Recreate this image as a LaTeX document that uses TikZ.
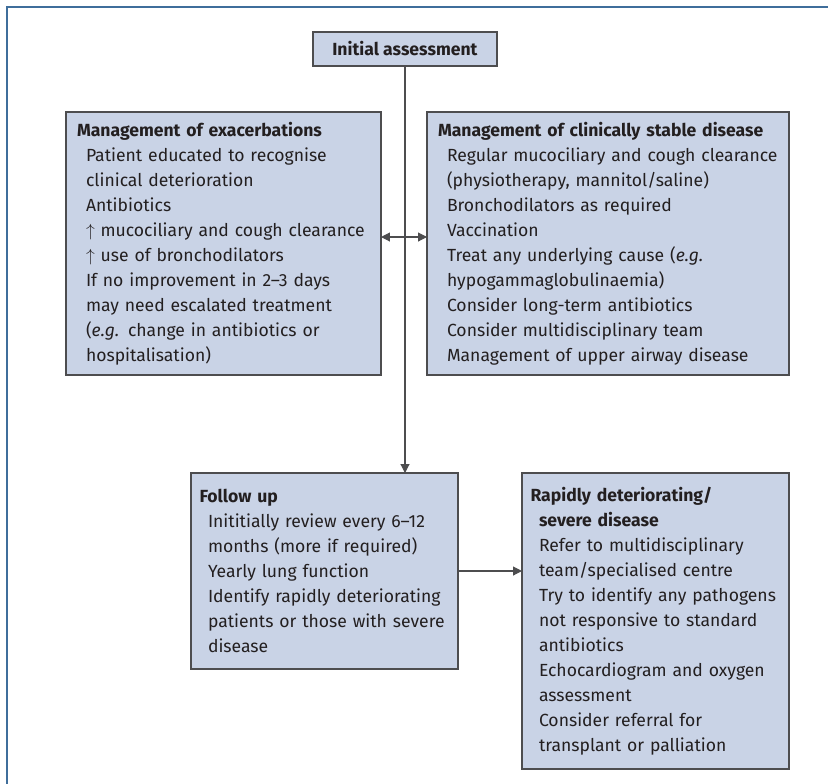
\documentclass[tikz,border=0pt]{standalone}
\usepackage{amsmath}
\usepackage{amssymb}
\usepackage{fontspec}
\setmainfont{Fira Sans}
\usepackage{tikz}
\usetikzlibrary{arrows.meta}

\definecolor{boxfill}{HTML}{C9D3E6}
\definecolor{boxline}{HTML}{4D4D4F}
\definecolor{framecol}{HTML}{3F6E9B}
\definecolor{textcol}{HTML}{231F20}

\newlength{\itmind}
\newlength{\ttlind}
\newcommand{\itm}[1]{\hspace*{\itmind}\mbox{#1}}
\newcommand{\ttl}[1]{\hspace*{\ttlind}\mbox{\textbf{#1}}}

\tikzset{
    mgmtbox/.style={draw=boxline, fill=boxfill, line width=0.6pt, outer sep=0pt,
      align=left, anchor=north west, inner xsep=0.06cm, inner ysep=0pt,
      text=textcol, font=\fontsize{10}{14.2}\selectfont},
    bigbox/.style={mgmtbox,
      execute at begin node={\setlength{\itmind}{0.34cm}\setlength{\ttlind}{0.16cm}}},
    smallbox/.style={mgmtbox,
      execute at begin node={\setlength{\itmind}{0.28cm}\setlength{\ttlind}{0.11cm}}},
    link/.style={draw=boxline, line width=0.6pt}
}

\begin{document}
\begin{tikzpicture}[>={Triangle[length=5pt,width=5pt]}]

    \useasboundingbox (0,0) rectangle (16.56,-15.66);

    \draw[framecol, line width=1.2pt] (0.14,-0.14) rectangle (17,-16.5);

    \node[mgmtbox, anchor=center, minimum width=3.68cm, minimum height=0.68cm] (init) at (8.1,-0.98)
      {\textbf{Initial assessment}};

    \node[bigbox, text width=6.18cm, minimum height=5.26cm] (exac) at (1.32,-2.24)
      {\ttl{Management of exacerbations}\\
       \itm{Patient educated to recognise}\\
       \itm{clinical deterioration}\\
       \itm{Antibiotics}\\
       \itm{$\uparrow$ mucociliary and cough clearance}\\
       \itm{$\uparrow$ use of bronchodilators}\\
       \itm{If no improvement in 2--3 days}\\
       \itm{may need escalated treatment}\\
       \itm{(\textit{e.g.} change in antibiotics or}\\
       \itm{hospitalisation)}};

    \node[bigbox, text width=7.12cm, minimum height=5.26cm] (stable) at (8.54,-2.24)
      {\ttl{Management of clinically stable disease}\\
       \itm{Regular mucociliary and cough clearance}\\
       \itm{(physiotherapy, mannitol/saline)}\\
       \itm{Bronchodilators as required}\\
       \itm{Vaccination}\\
       \itm{Treat any underlying cause (\textit{e.g.}}\\
       \itm{hypogammaglobulinaemia)}\\
       \itm{Consider long-term antibiotics}\\
       \itm{Consider multidisciplinary team}\\
       \itm{Management of upper airway disease}};

    \node[smallbox, text width=5.22cm, minimum height=3.92cm] (follow) at (3.82,-9.46)
      {\ttl{Follow up}\\
       \itm{Inititially review every 6--12}\\
       \itm{months (more if required)}\\
       \itm{Yearly lung function}\\
       \itm{Identify rapidly deteriorating}\\
       \itm{patients or those with severe}\\
       \itm{disease}};

    \node[smallbox, text width=5.22cm, minimum height=5.92cm] (rapid) at (10.44,-9.46)
      {\ttl{Rapidly deteriorating/}\\
       \itm{\textbf{severe disease}}\\
       \itm{Refer to multidisciplinary}\\
       \itm{team/specialised centre}\\
       \itm{Try to identify any pathogens}\\
       \itm{not responsive to standard}\\
       \itm{antibiotics}\\
       \itm{Echocardiogram and oxygen}\\
       \itm{assessment}\\
       \itm{Consider referral for}\\
       \itm{transplant or palliation}};

    \coordinate (mid) at (8.1,-4.74);

    \draw[link, ->] (init.south) -- (init.south |- follow.north);

    \draw[link, <->] (mid -| exac.east) -- (mid -| stable.west);

    \draw[link, ->] (follow.east) -- (follow.east -| rapid.west);

\end{tikzpicture}
\end{document}
